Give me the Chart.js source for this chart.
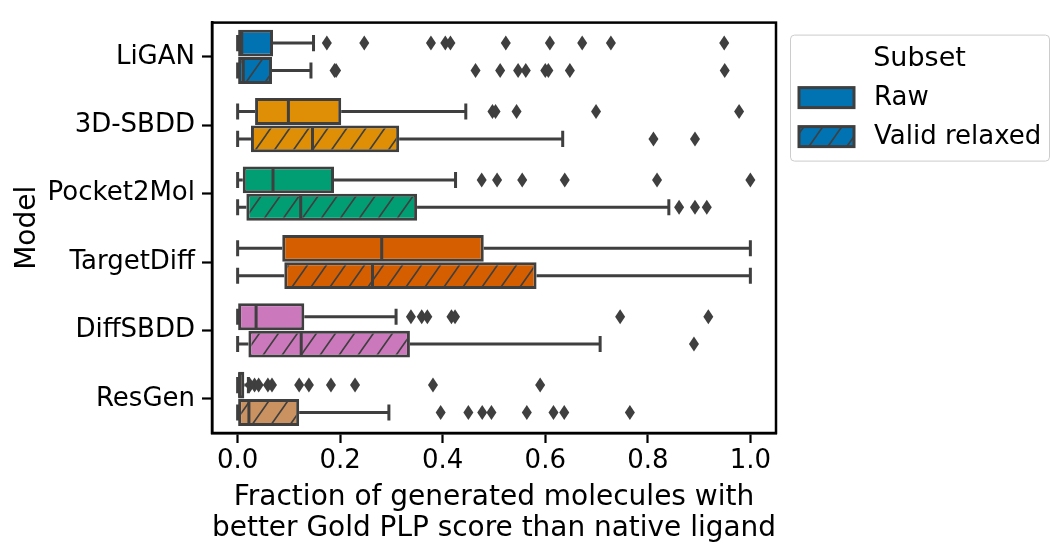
<!DOCTYPE html>
<html>
<head>
<meta charset="utf-8">
<script src="https://cdn.jsdelivr.net/npm/chart.js@4"></script>
<style>
html,body{margin:0;padding:0;background:#fff}
</style>
</head>
<body>
<canvas id="chart" width="1050" height="544"></canvas>
<script>
// categories and subsets
const models = ["LiGAN", "3D-SBDD", "Pocket2Mol", "TargetDiff", "DiffSBDD", "ResGen"];
const subsets = ["Raw", "Valid relaxed"];
const palette = ["#0173b2", "#de8f05", "#029e73", "#d55e00", "#cc78bc", "#ca9161"];
const xTicks = [0, 0.2, 0.4, 0.6, 0.8, 1.0];

// Raw subset
const rawLow = [0, 0, 0, 0, 0, 0];
const rawQ1 = [0, 0.034, 0.010, 0.087, 0, 0];
const rawMed = [0.008, 0.099, 0.069, 0.281, 0.036, 0.004];
const rawQ3 = [0.069, 0.202, 0.188, 0.480, 0.130, 0.013];
const rawHigh = [0.148, 0.445, 0.425, 1.0, 0.309, 0.021];
const rawOut = [
  [0.174, 0.247, 0.377, 0.405, 0.415, 0.523, 0.609, 0.672, 0.728, 0.949],
  [0.497, 0.503, 0.544, 0.699, 0.978],
  [0.476, 0.506, 0.555, 0.638, 0.818, 1.0],
  [],
  [0.338, 0.359, 0.370, 0.417, 0.424, 0.746, 0.918],
  [0.024, 0.033, 0.041, 0.059, 0.067, 0.120, 0.139, 0.182, 0.229, 0.381, 0.590]
];

// Valid relaxed subset
const relLow = [0, 0, 0, 0, 0, 0];
const relQ1 = [0, 0.026, 0.017, 0.091, 0.021, 0];
const relMed = [0.011, 0.146, 0.123, 0.263, 0.124, 0.022];
const relQ3 = [0.067, 0.315, 0.350, 0.583, 0.336, 0.120];
const relHigh = [0.143, 0.634, 0.841, 1.0, 0.707, 0.295];
const relOut = [
  [0.189, 0.192, 0.464, 0.512, 0.547, 0.562, 0.600, 0.606, 0.648, 0.950],
  [0.811, 0.892],
  [0.861, 0.892, 0.915],
  [],
  [0.890],
  [0.396, 0.450, 0.477, 0.495, 0.564, 0.616, 0.637, 0.765]
];

const lineCol = "#3f3f3f";
const font = {family: "DejaVu Sans", size: 26};

function hatch(color) {
  const w = 19, h = 27;
  const c = document.createElement("canvas");
  c.width = w; c.height = h;
  const g = c.getContext("2d");
  g.fillStyle = color;
  g.fillRect(0, 0, w, h);
  g.strokeStyle = lineCol;
  g.lineWidth = 1.6;
  g.beginPath();
  g.moveTo(-w, 2 * h); g.lineTo(2 * w, -h);
  g.moveTo(-2 * w, 2 * h); g.lineTo(w, -h);
  g.moveTo(0, 2 * h); g.lineTo(3 * w, -h);
  g.stroke();
  return g.createPattern(c, "repeat");
}

const stats = [
  {low: rawLow, med: rawMed, high: rawHigh, q1: rawQ1, q3: rawQ3, out: rawOut},
  {low: relLow, med: relMed, high: relHigh, q1: relQ1, q3: relQ3, out: relOut}
];

const boxPlugin = {
  id: "boxes",
  beforeDatasetsDraw(chart) {
    const ctx = chart.ctx, x = chart.scales.x;
    ctx.save();
    ctx.strokeStyle = lineCol;
    ctx.lineWidth = 3;
    stats.forEach((s, di) => {
      chart.getDatasetMeta(di).data.forEach((bar, i) => {
        const y = bar.y, cap = bar.height * 0.3;
        const pl = x.getPixelForValue(s.low[i]), p1 = x.getPixelForValue(s.q1[i]);
        const p3 = x.getPixelForValue(s.q3[i]), ph = x.getPixelForValue(s.high[i]);
        ctx.beginPath();
        ctx.moveTo(pl, y); ctx.lineTo(p1, y);
        ctx.moveTo(p3, y); ctx.lineTo(ph, y);
        ctx.moveTo(pl, y - cap); ctx.lineTo(pl, y + cap);
        ctx.moveTo(ph, y - cap); ctx.lineTo(ph, y + cap);
        ctx.stroke();
      });
    });
    ctx.restore();
  },
  afterDatasetsDraw(chart) {
    const ctx = chart.ctx, x = chart.scales.x;
    ctx.save();
    ctx.strokeStyle = lineCol;
    ctx.fillStyle = lineCol;
    ctx.lineWidth = 3;
    stats.forEach((s, di) => {
      chart.getDatasetMeta(di).data.forEach((bar, i) => {
        const y = bar.y, hh = bar.height / 2 - 1;
        const pm = x.getPixelForValue(s.med[i]);
        ctx.beginPath();
        ctx.moveTo(pm, y - hh); ctx.lineTo(pm, y + hh);
        ctx.stroke();
        s.out[i].forEach(v => {
          const px = x.getPixelForValue(v);
          ctx.beginPath();
          ctx.moveTo(px, y - 7.5); ctx.lineTo(px + 5, y);
          ctx.lineTo(px, y + 7.5); ctx.lineTo(px - 5, y);
          ctx.closePath();
          ctx.fill();
        });
      });
    });
    ctx.restore();
  },
  afterDraw(chart) {
    const ctx = chart.ctx, a = chart.chartArea;
    ctx.save();
    // spines
    ctx.strokeStyle = "#000";
    ctx.lineWidth = 2.5;
    ctx.strokeRect(a.left, a.top, a.right - a.left, a.bottom - a.top);
    // legend
    const lx = a.right + 14, ly = a.top + 12, lw = 259, lh = 126;
    ctx.fillStyle = "rgba(255,255,255,0.8)";
    ctx.strokeStyle = "#cccccc";
    ctx.lineWidth = 1;
    ctx.beginPath();
    ctx.roundRect(lx + 0.5, ly + 0.5, lw, lh, 4);
    ctx.fill(); ctx.stroke();
    ctx.fillStyle = "#000";
    ctx.font = "27px 'DejaVu Sans'";
    ctx.textBaseline = "middle";
    ctx.textAlign = "center";
    ctx.fillText("Subset", lx + lw / 2, ly + 24);
    ctx.textAlign = "left";
    ctx.font = "26px 'DejaVu Sans'";
    const fills = [palette[0], hatch(palette[0])];
    subsets.forEach((name, k) => {
      const py = ly + 53 + k * 39;
      ctx.fillStyle = fills[k];
      ctx.fillRect(lx + 9, py, 55, 20);
      ctx.strokeStyle = lineCol;
      ctx.lineWidth = 3;
      ctx.strokeRect(lx + 9, py, 55, 20);
      ctx.fillStyle = "#000";
      ctx.fillText(name, lx + 84, py + 11);
    });
    ctx.restore();
  }
};

new Chart(document.getElementById("chart"), {
  type: "bar",
  data: {
    labels: models,
    datasets: [
      {
        label: subsets[0],
        data: models.map((m, i) => [rawQ1[i], rawQ3[i]]),
        backgroundColor: palette
      },
      {
        label: subsets[1],
        data: models.map((m, i) => [relQ1[i], relQ3[i]]),
        backgroundColor: palette.map(hatch)
      }
    ]
  },
  options: {
    indexAxis: "y",
    responsive: false,
    animation: false,
    layout: {padding: {top: 13, right: 274, left: 0, bottom: 0}},
    datasets: {
      bar: {
        categoryPercentage: 0.8,
        barPercentage: 0.98,
        borderWidth: 3,
        borderColor: lineCol,
        borderSkipped: false
      }
    },
    scales: {
      x: {
        type: "linear",
        min: -0.05,
        max: 1.05,
        afterBuildTicks: s => { s.ticks = xTicks.map(v => ({value: v})); },
        afterFit: s => { s.height = 111; },
        ticks: {font: font, color: "#000", padding: 3, callback: v => v.toFixed(1)},
        grid: {drawOnChartArea: false, tickLength: 10, tickWidth: 2.2, color: "#000"},
        border: {display: true, color: "#000", width: 2.5},
        title: {
          display: true,
          text: ["Fraction of generated molecules with", "better Gold PLP score than native ligand"],
          font: {family: "DejaVu Sans", size: 28, lineHeight: 1.1},
          color: "#000",
          padding: {top: 0, bottom: 0}
        }
      },
      y: {
        type: "category",
        offset: true,
        afterFit: s => { s.width = 212; },
        ticks: {font: font, color: "#000", padding: 7},
        grid: {offset: false, drawOnChartArea: false, tickLength: 10, tickWidth: 2.2, color: "#000"},
        border: {display: true, color: "#000", width: 2.5},
        title: {
          display: true,
          text: "Model",
          font: {family: "DejaVu Sans", size: 28},
          color: "#000",
          padding: {top: 11, bottom: 0}
        }
      }
    },
    plugins: {legend: {display: false}, tooltip: {enabled: false}}
  },
  plugins: [boxPlugin]
});
</script>
</body>
</html>
